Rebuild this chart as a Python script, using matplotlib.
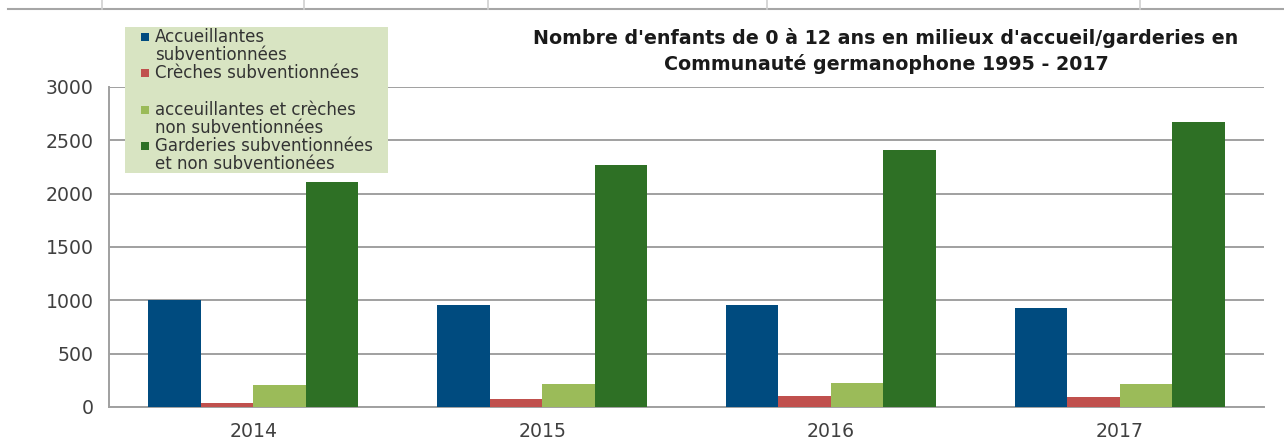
import matplotlib
matplotlib.use("Agg")
import matplotlib.pyplot as plt
from matplotlib.lines import Line2D
from matplotlib.patches import Rectangle

# Data
years = ["2014", "2015", "2016", "2017"]
series_names = [
    "Accueillantes\nsubventionnées",
    "Crèches subventionnées\n",
    "acceuillantes et crèches\nnon subventionnées",
    "Garderies subventionnées\net non subventionées",
]
accueillantes = [1005, 958, 958, 932]
creches = [40, 72, 106, 97]
non_subv = [203, 215, 226, 215]
garderies = [2112, 2265, 2410, 2672]
values = [accueillantes, creches, non_subv, garderies]
colors = ["#004b7f", "#c0504d", "#9bbb59", "#2e7025"]
title = "Nombre d'enfants de 0 à 12 ans en milieux d'accueil/garderies en\nCommunauté germanophone 1995 - 2017"

W, H = 1284, 442
plt.rcParams["font.family"] = ["DejaVu Sans"]


def fx(px):
    return px / W


def fy(py):
    return 1 - py / H


fig = plt.figure(figsize=(W / 100, H / 100), dpi=100)
fig.patch.set_facecolor("white")
ax = fig.add_axes([fx(109), fy(407), fx(1264 - 109), (407 - 87) / H])

# Bars
bw = 0.182
for s in range(len(values)):
    xs = [i + (s - 1.5) * bw for i in range(len(years))]
    ax.bar(xs, values[s], width=bw, color=colors[s], zorder=3)

ax.set_xlim(-0.5, len(years) - 0.5)
ax.set_ylim(0, 3000)
ax.set_yticks(range(0, 3001, 500))
ax.set_xticks(range(len(years)))
ax.set_xticklabels(years)
ax.tick_params(axis="both", length=0, labelsize=13.6, colors="#404040")
ax.tick_params(axis="y", pad=11)
ax.tick_params(axis="x", pad=11)
ax.yaxis.grid(True, color="#a0a0a0", linewidth=1.4, zorder=0)
for sp in ["top", "right"]:
    ax.spines[sp].set_visible(False)
ax.spines["left"].set_color("#a0a0a0")
ax.spines["left"].set_linewidth(1.4)
ax.spines["bottom"].set_color("#a0a0a0")
ax.spines["bottom"].set_linewidth(1.4)

# Title
fig.text(fx(886), fy(51), title, ha="center", va="center", fontsize=13.7,
         fontweight="bold", color="#1a1a1a", linespacing=1.4)

# Legend box (drawn by hand to match the layout)
fig.add_artist(Rectangle((fx(125), fy(173)), fx(388 - 125), (173 - 27) / H,
                         transform=fig.transFigure, facecolor="#d8e4c2",
                         edgecolor="none", zorder=5))
line = 0
for s, name in enumerate(series_names):
    y0 = 37 + line * 18.2
    fig.add_artist(Rectangle((fx(141), fy(y0 + 4)), fx(8), 8 / H,
                             transform=fig.transFigure, facecolor=colors[s],
                             edgecolor="none", zorder=6))
    for part in name.split("\n"):
        fig.text(fx(155), fy(37 + line * 18.2), part, ha="left", va="center",
                 fontsize=12, color="#333333", zorder=7)
        line += 1

# Table border on top of the image
fig.add_artist(Line2D([fx(8), fx(1284)], [fy(9), fy(9)], color="#a6a6a6",
                      linewidth=1.5, transform=fig.transFigure))
for xv in [102, 304, 488, 767, 1140]:
    fig.add_artist(Line2D([fx(xv), fx(xv)], [fy(0), fy(9)], color="#cfcfcf",
                          linewidth=1.2, transform=fig.transFigure))

fig.savefig("out.png", dpi=100, facecolor="white")
